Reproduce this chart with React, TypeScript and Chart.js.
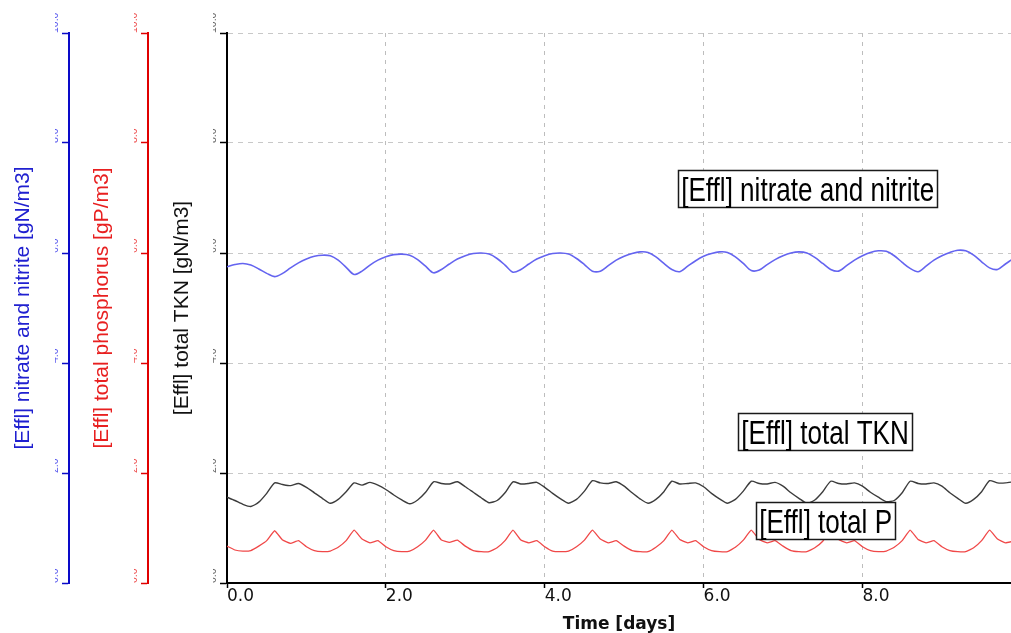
import React, { useEffect, useRef } from 'react';
import { Chart, registerables } from 'chart.js';

Chart.register(...registerables);

// ---------- data ----------
const timeDays = [
  0.0, 0.1, 0.2, 0.3, 0.4, 0.5, 0.6, 0.7, 0.8, 0.9,
  1.0, 1.1, 1.2, 1.3, 1.4, 1.5, 1.6, 1.7, 1.8, 1.9,
  2.0, 2.1, 2.2, 2.3, 2.4, 2.5, 2.6, 2.7, 2.8, 2.9,
  3.0, 3.1, 3.2, 3.3, 3.4, 3.5, 3.6, 3.7, 3.8, 3.9,
  4.0, 4.1, 4.2, 4.3, 4.4, 4.5, 4.6, 4.7, 4.8, 4.9,
  5.0, 5.1, 5.2, 5.3, 5.4, 5.5, 5.6, 5.7, 5.8, 5.9,
  6.0, 6.1, 6.2, 6.3, 6.4, 6.5, 6.6, 6.7, 6.8, 6.9,
  7.0, 7.1, 7.2, 7.3, 7.4, 7.5, 7.6, 7.7, 7.8, 7.9,
  8.0, 8.1, 8.2, 8.3, 8.4, 8.5, 8.6, 8.7, 8.8, 8.9,
  9.0, 9.1, 9.2, 9.3, 9.4, 9.5, 9.6, 9.7, 9.8, 9.9,
];

const nitrateNitrite = [
  5.75, 5.79, 5.81, 5.78, 5.71, 5.63, 5.57, 5.63, 5.73, 5.82,
  5.89, 5.94, 5.96, 5.95, 5.87, 5.74, 5.61, 5.67, 5.78, 5.87,
  5.93, 5.97, 5.98, 5.96, 5.88, 5.76, 5.64, 5.70, 5.80, 5.89,
  5.95, 5.99, 6.00, 5.98, 5.90, 5.78, 5.65, 5.70, 5.80, 5.89,
  5.95, 5.99, 6.00, 5.98, 5.90, 5.79, 5.67, 5.67, 5.77, 5.87,
  5.94, 5.99, 6.02, 6.01, 5.93, 5.81, 5.70, 5.66, 5.76, 5.86,
  5.94, 5.99, 6.02, 6.01, 5.93, 5.81, 5.68, 5.69, 5.79, 5.88,
  5.95, 6.00, 6.02, 6.00, 5.92, 5.81, 5.70, 5.67, 5.77, 5.87,
  5.95, 6.01, 6.04, 6.03, 5.95, 5.83, 5.72, 5.66, 5.76, 5.87,
  5.95, 6.01, 6.05, 6.04, 5.96, 5.84, 5.73, 5.70, 5.80, 5.90,
];

const totalTKN = [
  1.56, 1.50, 1.43, 1.39, 1.47, 1.63, 1.82, 1.79, 1.77, 1.81,
  1.74, 1.64, 1.54, 1.45, 1.52, 1.66, 1.82, 1.78, 1.83, 1.78,
  1.70, 1.60, 1.51, 1.44, 1.51, 1.65, 1.84, 1.81, 1.80, 1.84,
  1.75, 1.65, 1.55, 1.46, 1.50, 1.64, 1.84, 1.80, 1.81, 1.83,
  1.74, 1.63, 1.53, 1.45, 1.52, 1.67, 1.86, 1.82, 1.81, 1.84,
  1.76, 1.64, 1.53, 1.45, 1.52, 1.66, 1.85, 1.80, 1.81, 1.82,
  1.75, 1.63, 1.53, 1.45, 1.52, 1.67, 1.85, 1.81, 1.80, 1.83,
  1.76, 1.64, 1.54, 1.45, 1.51, 1.66, 1.85, 1.81, 1.80, 1.82,
  1.76, 1.65, 1.56, 1.48, 1.50, 1.64, 1.85, 1.81, 1.80, 1.82,
  1.76, 1.64, 1.54, 1.45, 1.52, 1.66, 1.86, 1.82, 1.82, 1.84,
];

const totalP = [
  0.67, 0.60, 0.58, 0.59, 0.67, 0.77, 0.95, 0.78, 0.72, 0.77,
  0.66, 0.59, 0.57, 0.58, 0.65, 0.77, 0.96, 0.80, 0.73, 0.77,
  0.66, 0.59, 0.57, 0.58, 0.66, 0.78, 0.96, 0.78, 0.74, 0.78,
  0.67, 0.59, 0.57, 0.57, 0.64, 0.77, 0.96, 0.78, 0.73, 0.77,
  0.66, 0.58, 0.57, 0.58, 0.66, 0.78, 0.96, 0.80, 0.73, 0.77,
  0.67, 0.59, 0.57, 0.57, 0.65, 0.77, 0.96, 0.79, 0.73, 0.77,
  0.66, 0.59, 0.57, 0.57, 0.65, 0.78, 0.96, 0.79, 0.73, 0.77,
  0.67, 0.59, 0.57, 0.57, 0.64, 0.76, 0.95, 0.79, 0.73, 0.77,
  0.66, 0.59, 0.57, 0.58, 0.65, 0.77, 0.96, 0.79, 0.73, 0.77,
  0.66, 0.59, 0.57, 0.57, 0.64, 0.77, 0.96, 0.80, 0.73, 0.76,
];

const xAxisTitle = 'Time [days]';
const nitrateAxisTitle = '[Effl] nitrate and nitrite [gN/m3]';
const phosphorusAxisTitle = '[Effl] total phosphorus [gP/m3]';
const tknAxisTitle = '[Effl] total TKN [gN/m3]';

const seriesLabels = ['[Effl] nitrate and nitrite', '[Effl] total TKN', '[Effl] total P'];
// label anchors in data units (time, value on TKN axis)
const labelAnchorTime = [5.718, 6.474, 6.7];
const labelAnchorValue = [6.945, 2.527, 0.909];

const X_MIN = 0;
const X_MAX = 9.87;
const Y_MIN = 0;
const Y_MAX = 10;

// ---------- styling ----------
const SANS = '"Liberation Sans", Arial, sans-serif';
const VERDANA = '"DejaVu Sans", Verdana, sans-serif';
const BLUE = '#0a0ac8';
const RED = '#e00000';

const fmt1 = (v: any) => Number(v).toFixed(1);

const valueAxis = (axisColor: string, labelColor: string, weight: number, width: number, onChart: boolean) => ({
  type: 'linear',
  position: 'left',
  weight,
  min: Y_MIN,
  max: Y_MAX,
  ticks: {
    stepSize: 2,
    minRotation: 90,
    maxRotation: 90,
    crossAlign: 'far',
    padding: 0,
    autoSkip: false,
    color: labelColor,
    font: { family: SANS, size: 10.5 },
    callback: fmt1,
  },
  grid: {
    display: true,
    drawOnChartArea: onChart,
    color: (c: any) => (c.tick && c.tick.value === 0 ? 'rgba(0,0,0,0)' : '#c8c8c8'),
    lineWidth: 1,
    tickLength: 7,
    tickColor: axisColor,
    tickWidth: 1.5,
  },
  border: { display: true, color: axisColor, width: 2, dash: [5, 5] },
  afterFit: (s: any) => {
    s.width = width;
  },
});

const titleAxis = (text: string, color: string, weight: number, width: number, pad: number) => ({
  type: 'linear',
  position: 'left',
  weight,
  display: true,
  ticks: { display: false },
  grid: { display: false },
  border: { display: false },
  title: {
    display: true,
    text,
    color,
    font: { family: SANS, size: 21 },
    padding: { top: pad, bottom: 0 },
  },
  afterFit: (s: any) => {
    s.width = width;
  },
});

const LABEL_SX = 0.79;

const boxedLabels = {
  id: 'boxedLabels',
  afterDatasetsDraw(chart: any) {
    const { ctx, scales } = chart;
    ctx.save();
    ctx.font = `33px ${SANS}`;
    ctx.textBaseline = 'alphabetic';
    ctx.textAlign = 'left';
    seriesLabels.forEach((text, i) => {
      const px = scales.x.getPixelForValue(labelAnchorTime[i]);
      const py = scales.y.getPixelForValue(labelAnchorValue[i]);
      const w = ctx.measureText(text).width * LABEL_SX;
      const bx = Math.round(px - 3) + 0.5;
      const by = Math.round(py - 31) + 0.5;
      const bw = Math.round(w + 6);
      const bh = 37;
      ctx.fillStyle = '#ffffff';
      ctx.fillRect(bx, by, bw, bh);
      ctx.lineWidth = 1.5;
      ctx.strokeStyle = '#1a1a1a';
      ctx.strokeRect(bx, by, bw, bh);
      ctx.save();
      ctx.translate(px, py);
      ctx.scale(LABEL_SX, 1);
      ctx.fillStyle = '#000000';
      ctx.fillText(text, 0, 0);
      ctx.restore();
    });
    ctx.restore();
  },
};

export default function App() {
  const canvasRef = useRef<HTMLCanvasElement | null>(null);

  useEffect(() => {
    const canvas = canvasRef.current;
    if (!canvas) return;
    const toPoints = (arr: number[]) => timeDays.map((t, i) => ({ x: t, y: arr[i] }));
    const chart = new Chart(canvas, {
      type: 'line',
      data: {
        datasets: [
          {
            label: seriesLabels[0],
            data: toPoints(nitrateNitrite),
            yAxisID: 'yBlue',
            borderColor: '#6464f0',
            borderWidth: 1.6,
            pointRadius: 0,
            tension: 0.3,
            fill: false,
          },
          {
            label: seriesLabels[1],
            data: toPoints(totalTKN),
            yAxisID: 'y',
            borderColor: '#3c3c3c',
            borderWidth: 1.4,
            pointRadius: 0,
            tension: 0.2,
            fill: false,
          },
          {
            label: seriesLabels[2],
            data: toPoints(totalP),
            yAxisID: 'yRed',
            borderColor: '#f04848',
            borderWidth: 1.3,
            pointRadius: 0,
            tension: 0.1,
            fill: false,
          },
        ],
      },
      options: {
        responsive: false,
        animation: false,
        maintainAspectRatio: false,
        parsing: true,
        layout: { padding: { top: 33, left: 0, right: 0, bottom: 0 } },
        plugins: {
          legend: { display: false },
          tooltip: { enabled: false },
          title: { display: false },
        },
        scales: {
          yBlueTitle: titleAxis(nitrateAxisTitle, '#2020d0', 6, 55, 11),
          yBlue: valueAxis(BLUE, '#5a5aee', 5, 14, false),
          yRedTitle: titleAxis(phosphorusAxisTitle, '#e82020', 4, 65, 21),
          yRed: valueAxis(RED, '#ee5050', 3, 14, false),
          yTknTitle: titleAxis(tknAxisTitle, '#111111', 2, 65, 22),
          y: valueAxis('#000000', '#666666', 1, 14, true),
          x: {
            type: 'linear',
            position: 'bottom',
            min: X_MIN,
            max: X_MAX,
            ticks: {
              stepSize: 2,
              includeBounds: false,
              align: 'start',
              padding: -2,
              maxRotation: 0,
              autoSkip: false,
              color: '#111111',
              font: { family: VERDANA, size: 17 },
              callback: fmt1,
            },
            grid: {
              color: (c: any) => (c.tick && c.tick.value === 0 ? 'rgba(0,0,0,0)' : '#bdbdbd'),
              lineWidth: 1,
              tickLength: 5,
              tickColor: '#000000',
              tickWidth: 1.5,
            },
            border: { display: true, color: '#000000', width: 2, dash: [4, 5] },
            title: {
              display: true,
              text: xAxisTitle,
              color: '#111111',
              font: { family: VERDANA, size: 17, weight: 'bold', lineHeight: 1.0 },
              padding: { top: 0, bottom: 0 },
            },
            afterFit: (s: any) => {
              s.height = 50;
            },
          },
        },
      } as any,
      plugins: [boxedLabels],
    });
    return () => chart.destroy();
  }, []);

  return (
    <div style={{ position: 'absolute', left: 0, top: 0, width: 1011, height: 633, background: '#fff' }}>
      <canvas ref={canvasRef} width={1011} height={633} style={{ display: 'block', width: 1011, height: 633 }} />
    </div>
  );
}
